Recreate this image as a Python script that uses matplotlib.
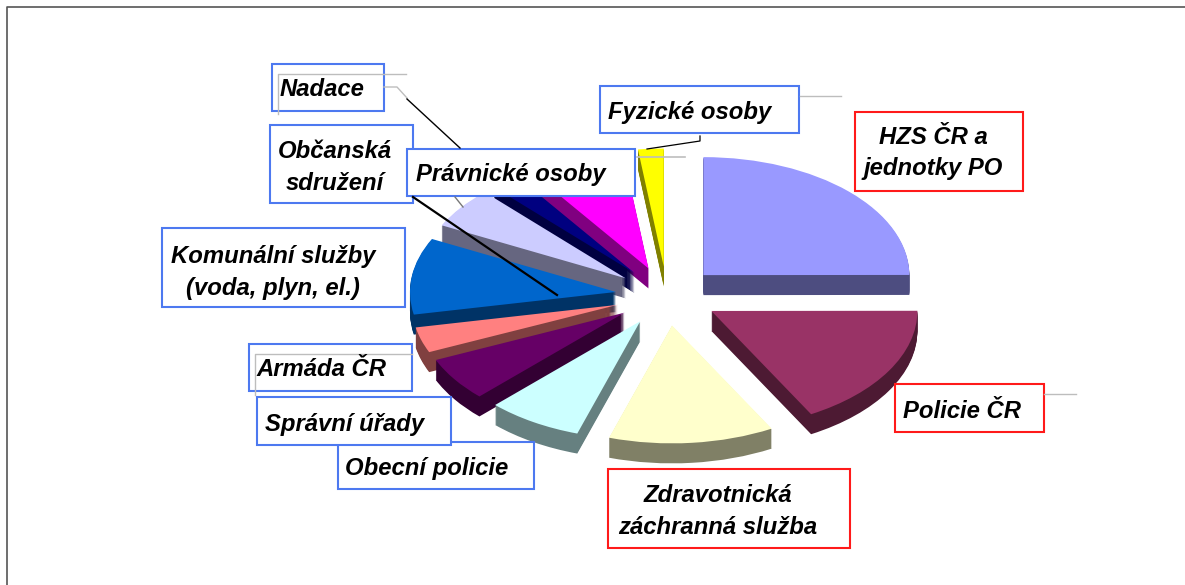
import numpy as np
import matplotlib
matplotlib.use("Agg")
import matplotlib.pyplot as plt
from matplotlib.patches import Rectangle

# share of each body, percent
names = ["HZS ČR a jednotky PO", "Policie ČR", "Zdravotnická záchranná služba",
         "Obecní policie", "Správní úřady", "Armáda ČR", "Komunální služby",
         "Občanská sdružení", "Nadace", "Právnické osoby", "Fyzické osoby"]
values = [25.0, 17.0, 13.0, 7.5, 6.0, 3.5, 10.5, 5.6, 2.3, 7.7, 2.0]
top_colors = ["#9999FF", "#993366", "#FFFFCC", "#CCFFFF", "#660066", "#FF8080",
              "#0066CC", "#CCCCFF", "#000080", "#FF00FF", "#FFFF00"]
wall_colors = ["#4D4D80", "#4D1A33", "#808066", "#668080", "#330033", "#804040",
               "#003366", "#666680", "#000040", "#800080", "#808000"]

W, H = 1185, 585
CX, CY = 667, 296      # pie centre in pixels
RX, RY = 206, 118      # ellipse radii in pixels
DEPTH = 20 / RY

plt.rcParams["font.family"] = ["Liberation Sans", "DejaVu Sans"]
fig = plt.figure(figsize=(W / 100, H / 100), dpi=100, facecolor="white")

# the pie is squashed by using unequal limits on a full figure axes
ax = fig.add_axes([0, 0, 1, 1])
explode = [0.25] * len(values)
for d in np.linspace(DEPTH, DEPTH / 20, 20):
    ax.pie(values, explode=explode, colors=wall_colors, startangle=90,
           counterclock=False, center=(0, -d), radius=1,
           wedgeprops={"linewidth": 0.4, "edgecolor": "none"})
ax.pie(values, explode=explode, colors=top_colors, startangle=90,
       counterclock=False, center=(0, 0), radius=1,
       wedgeprops={"linewidth": 0.4, "edgecolor": "none"})
ax.set_aspect("auto")
ax.set_xlim(-CX / RX, (W - CX) / RX)
ax.set_ylim(-(H - CY) / RY, CY / RY)
ax.axis("off")

# overlay in pixel coordinates for the callouts
ov = fig.add_axes([0, 0, 1, 1])
ov.set_xlim(0, W)
ov.set_ylim(H, 0)
ov.axis("off")
ov.patch.set_alpha(0)

BLUE = "#4D79F0"
RED = "#FF1A1A"
GRAY = "#BDBDBD"

# outer frame, top and left only
ov.plot([7, 7, W], [H, 7, 7], color="#555555", lw=1.2)

# leader lines
ov.plot([384, 397, 407], [87, 87, 98], color=GRAY, lw=1)
ov.plot([407, 460], [99, 148], color="black", lw=1)
ov.plot([455, 463], [197, 207], color="#777777", lw=1)
ov.plot([413, 557], [197, 295], color="black", lw=1.6)
ov.plot([700, 700, 647], [136, 141, 149], color="black", lw=0.9)
ov.plot([800, 841], [96, 96], color=GRAY, lw=1)
ov.plot([637, 685], [157, 157], color=GRAY, lw=1.2)
ov.plot([1044, 1076], [394, 394], color=GRAY, lw=1)

boxes = [
    (272, 64, 384, 111, BLUE, "Nadace", 322, 90),
    (270, 125, 413, 203, BLUE, "Občanská\nsdružení", 335, 168),
    (600, 86, 799, 133, BLUE, "Fyzické osoby", 690, 113),
    (407, 149, 635, 196, BLUE, "Právnické osoby", 511, 174),
    (855, 112, 1023, 191, RED, "HZS ČR a\njednotky PO", 933, 153),
    (162, 228, 405, 307, BLUE, "Komunální služby\n(voda, plyn, el.)", 273, 272),
    (338, 442, 534, 489, BLUE, "Obecní policie", 427, 469),
    (249, 344, 412, 391, BLUE, "Armáda ČR", 321, 370),
    (257, 397, 451, 445, BLUE, "Správní úřady", 345, 424),
    (608, 469, 850, 548, RED, "Zdravotnická\nzáchranná služba", 718, 511),
    (895, 384, 1044, 432, RED, "Policie ČR", 962, 412),
]
for x0, y0, x1, y1, col, label, tx, ty in boxes:
    ov.add_patch(Rectangle((x0, y0), x1 - x0, y1 - y0, facecolor="white",
                           edgecolor=col, linewidth=1.5))
    ov.text(tx, ty, label, ha="center", va="center", fontsize=17.2, fontweight="bold",
            fontstyle="italic", color="black", linespacing=1.5)

# grey inset lines left over in two of the boxes
ov.plot([278, 278, 406], [114, 74, 74], color=GRAY, lw=1)
ov.plot([255, 255, 412], [395, 354, 354], color=GRAY, lw=1)

fig.savefig("out.png", dpi=100)
